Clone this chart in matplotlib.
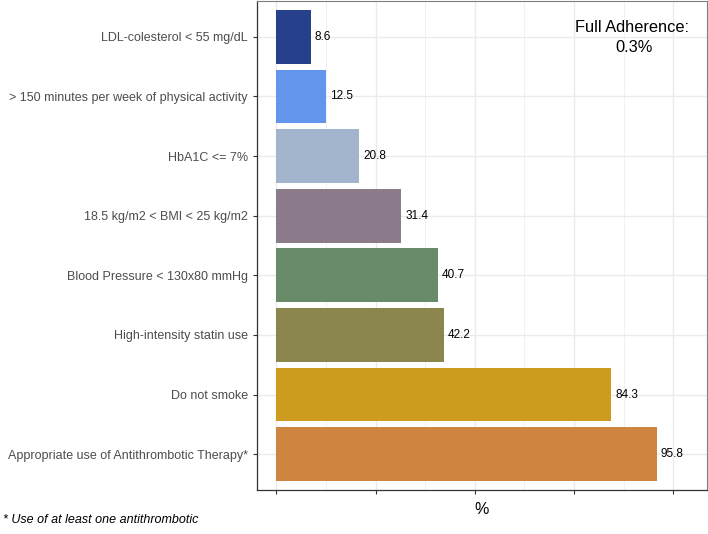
import matplotlib.pyplot as plt
from matplotlib.ticker import MultipleLocator

plt.rcParams['font.family'] = ['Liberation Sans', 'DejaVu Sans']

# data, top to bottom as in the picture
categories = [
    'LDL-colesterol < 55 mg/dL',
    '> 150 minutes per week of physical activity',
    'HbA1C <= 7%',
    '18.5 kg/m2 < BMI < 25 kg/m2',
    'Blood Pressure < 130x80 mmHg',
    'High-intensity statin use',
    'Do not smoke',
    'Appropriate use of Antithrombotic Therapy*',
]
values = [8.6, 12.5, 20.8, 31.4, 40.7, 42.2, 84.3, 95.8]
colors = ['#27408B', '#6495ED', '#A2B5CD', '#8B7B8B',
          '#698B69', '#8B864E', '#CD9B1D', '#CD853F']
full_adherence = 0.3

fig = plt.figure(figsize=(7.08, 5.34), dpi=100)
ax = fig.add_axes([257 / 708, 1 - 490 / 534, 450 / 708, 489 / 534])

ypos = list(range(len(categories), 0, -1))
ax.barh(ypos, values, height=0.9, color=colors, zorder=2)
for y, v in zip(ypos, values):
    ax.annotate(f'{v}', (v, y), xytext=(3, 0), textcoords='offset points',
                va='center', ha='left', fontsize=8.5, color='black')

ax.set_xlim(-4.9, 108.5)
ax.set_ylim(0.4, 8.6)
ax.set_yticks(ypos)
ax.set_yticklabels(categories, fontsize=9, color='#4D4D4D')
ax.xaxis.set_major_locator(MultipleLocator(25))
ax.xaxis.set_minor_locator(MultipleLocator(12.5))
ax.set_xticklabels([])
ax.tick_params(axis='x', which='minor', length=0)
ax.tick_params(axis='both', which='major', length=3, color='#333333', width=0.8)
ax.grid(True, which='major', color='#EBEBEB', linewidth=1.0, zorder=0)
ax.grid(True, which='minor', axis='x', color='#EBEBEB', linewidth=0.5, zorder=0)
ax.set_axisbelow(True)

for side in ['top', 'right']:
    ax.spines[side].set_color('#7F7F7F')
    ax.spines[side].set_linewidth(0.8)
for side in ['left', 'bottom']:
    ax.spines[side].set_color('#333333')
    ax.spines[side].set_linewidth(0.9)

ax.set_xlabel('%', fontsize=11.5, labelpad=2)

fig.text(632 / 708, 1 - 28 / 534, 'Full Adherence:', fontsize=11.8,
         ha='center', va='center')
fig.text(634 / 708, 1 - 48 / 534, f'{full_adherence}%', fontsize=11.8,
         ha='center', va='center')

fig.text(3 / 708, 1 - 520 / 534, '* Use of at least one antithrombotic',
         fontsize=9, style='italic', ha='left', va='center')

fig.savefig('out.png', dpi=100)
